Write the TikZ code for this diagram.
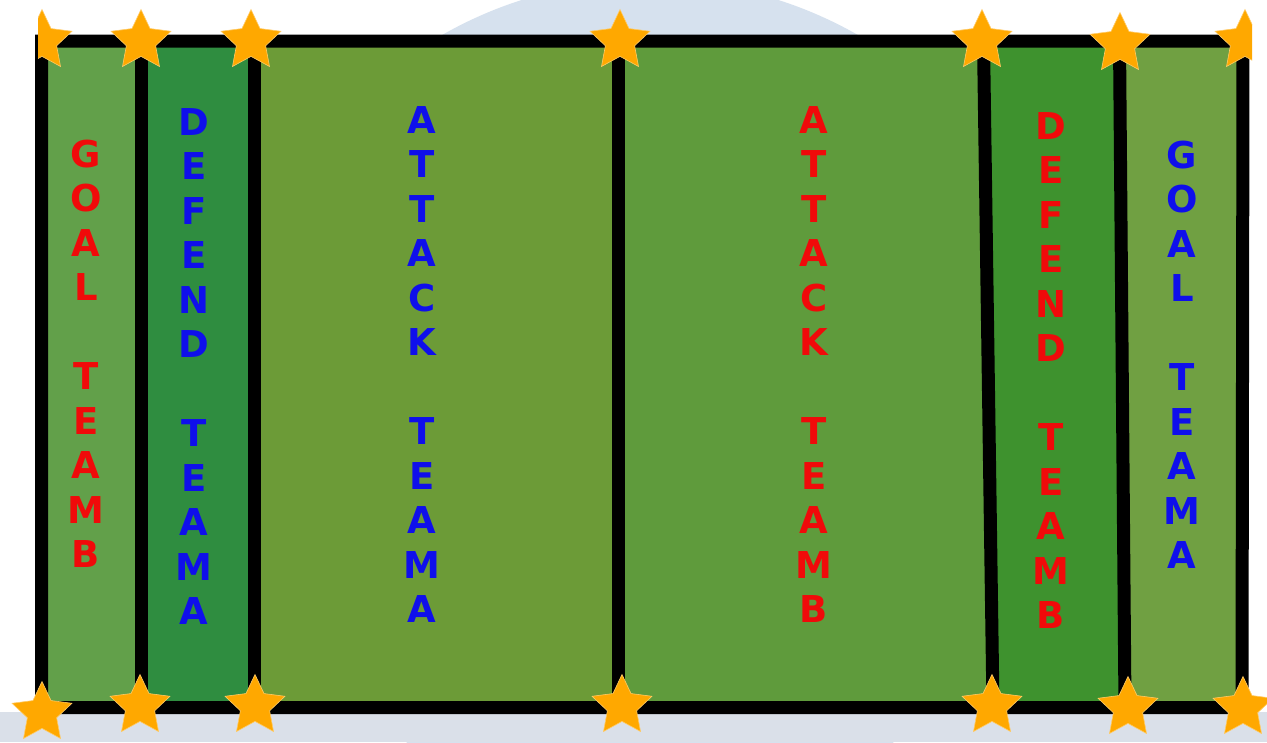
\documentclass[tikz,border=0pt]{standalone}
\usepackage{fontspec}
\newfontfamily\lblfont{DejaVu Sans}
\usetikzlibrary{shapes.geometric}
\definecolor{starc}{RGB}{255,168,0}
\definecolor{goalB}{RGB}{98,160,74}
\definecolor{defA}{RGB}{47,141,64}
\definecolor{attA}{RGB}{108,155,55}
\definecolor{attB}{RGB}{95,155,60}
\definecolor{defB}{RGB}{62,146,46}
\definecolor{goalA}{RGB}{112,160,66}
\definecolor{wmark}{RGB}{214,225,238}
\definecolor{wmarkb}{RGB}{218,224,233}
\definecolor{tred}{RGB}{240,10,10}
\definecolor{tblue}{RGB}{15,15,235}
\tikzset{
  letter/.style={font=\lblfont\bfseries\fontsize{37}{44}\selectfont, inner sep=0pt, anchor=base},
  starnode/.style={star, star points=5, star point ratio=2.05, minimum size=63pt, inner sep=0pt, fill=starc, draw=starc!60!white, line width=0.6pt},
  border/.style={line width=13pt, black, line cap=rect},
  divider/.style={line width=13pt, black}
}
\begin{document}
\begin{tikzpicture}[x=1pt,y=-1pt]
\useasboundingbox (0,0) rectangle (1267,742);
% background and faint watermark
\fill[white] (0,0) rectangle (1267,742);
\fill[wmark] (650,400) circle (420);
\fill[wmarkb] (0,712) rectangle (1267,742);
% strips
\fill[goalB] (41,41) rectangle (141.5,706);
\fill[defA]  (141.5,41) rectangle (254.5,706);
\fill[attA]  (254.5,41) rectangle (618.5,706);
\fill[attB]  (618.5,41) -- (983.5,41) -- (993,706) -- (618.5,706) -- cycle;
\fill[defB]  (983.5,41) -- (1119.5,41) -- (1125,706) -- (993,706) -- cycle;
\fill[goalA] (1119.5,41) -- (1243,41) -- (1242,706) -- (1125,706) -- cycle;
% black lines
\coordinate (tl) at (41.5,41);
\coordinate (tr) at (1243,41);
\coordinate (br) at (1242,707.5);
\coordinate (bl) at (41.5,707.5);
\draw[border] (tl) -- (tr) -- (br) -- (bl) -- cycle;
\draw[divider] (141.5,41) -- (141.5,707);
\draw[divider] (254.5,41) -- (254.5,707);
\draw[divider] (618.5,41) -- (618.5,707);
\draw[divider] (983.5,41) -- (993,707);
\draw[divider] (1119.5,41) -- (1125,707);
% letters
\foreach \ch [count=\i] in {G,O,A,L,{},T,E,A,M,B}
  \node[letter, text=tred] (gb-\i) at (86,{167+(\i-1)*44.5}) {\ch};
\foreach \ch [count=\i] in {D,E,F,E,N,D,{},T,E,A,M,A}
  \node[letter, text=tblue] (da-\i) at (194,{135+(\i-1)*44.5}) {\ch};
\foreach \ch [count=\i] in {A,T,T,A,C,K,{},T,E,A,M,A}
  \node[letter, text=tblue] (aa-\i) at (422,{133+(\i-1)*44.5}) {\ch};
\foreach \ch [count=\i] in {A,T,T,A,C,K,{},T,E,A,M,B}
  \node[letter, text=tred] (ab-\i) at (814,{133+(\i-1)*44.5}) {\ch};
\foreach \ch [count=\i] in {D,E,F,E,N,D,{},T,E,A,M,B}
  \node[letter, text=tred] (db-\i) at (1051,{139+(\i-1)*44.5}) {\ch};
\foreach \ch [count=\i] in {G,O,A,L,{},T,E,A,M,A}
  \node[letter, text=tblue] (ga-\i) at (1182,{168+(\i-1)*44.5}) {\ch};
% stars
\begin{scope}
  \clip (38,0) rectangle (1252,742);
  \node[starnode] (s1) at (42,41) {};
  \node[starnode] (s7) at (1245,41) {};
\end{scope}
\node[starnode] (s2) at (141,41) {};
\node[starnode] (s3) at (251,41) {};
\node[starnode] (s4) at (620,41) {};
\node[starnode] (s5) at (982,41) {};
\node[starnode] (s6) at (1120,44) {};
\node[starnode] (b1) at (42,713) {};
\node[starnode] (b2) at (140,706) {};
\node[starnode] (b3) at (255,706) {};
\node[starnode] (b4) at (622,706) {};
\node[starnode] (b5) at (992,706) {};
\node[starnode] (b6) at (1128,708) {};
\node[starnode] (b7) at (1243,708) {};
\end{tikzpicture}
\end{document}
